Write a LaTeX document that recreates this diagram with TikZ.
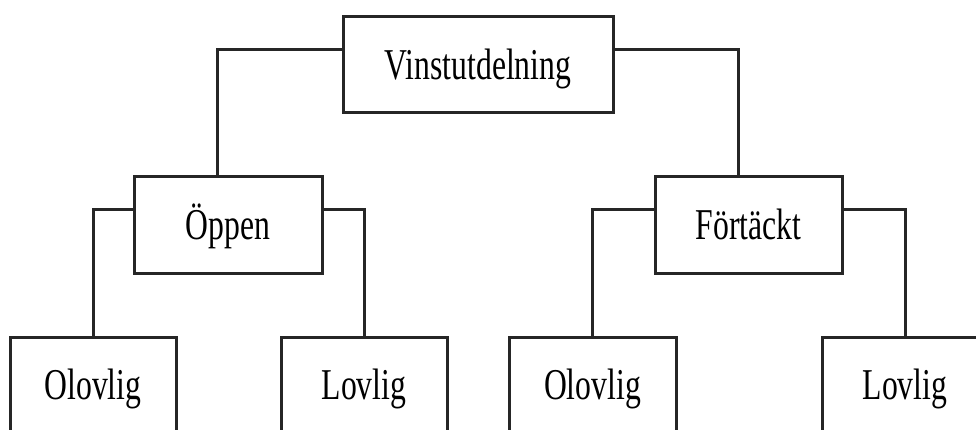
\documentclass[tikz,border=0pt]{standalone}
\usepackage{fontspec}
\newfontfamily\labfont[FakeStretch=0.72]{Liberation Serif}
\usetikzlibrary{calc}
\begin{document}
\begin{tikzpicture}[x=1pt,y=-1pt,
  box/.style={draw=black!85, line width=3pt, rectangle, minimum height=96pt,
    inner sep=0pt, text height=29pt, text depth=0pt,
    font=\labfont\fontsize{44}{50}\selectfont},
  conn/.style={draw=black!85, line width=3pt, line join=miter}]
\useasboundingbox (0,0) rectangle (976,430);
\clip (0,0) rectangle (976,430);
\fill[white] (0,0) rectangle (976,430);
\node[box, minimum width=270pt] (top) at (478,65) {Vinstutdelning};
\node[box, minimum width=188pt] (opp) at (228,225) {Öppen};
\node[box, minimum width=187pt] (fort) at (748.5,225) {Förtäckt};
\node[box, minimum width=166pt] (ol1) at (93,385) {Olovlig};
\node[box, minimum width=166pt] (lo1) at (364,385) {Lovlig};
\node[box, minimum width=167pt] (ol2) at (592.5,385) {Olovlig};
\node[box, minimum width=166pt] (lo2) at (905,385) {Lovlig};
\coordinate (tw) at ($(top.north west)!0.34!(top.south west)$);
\coordinate (te) at ($(top.north east)!0.34!(top.south east)$);
\coordinate (ow) at ($(opp.north west)!0.34!(opp.south west)$);
\coordinate (oe) at ($(opp.north east)!0.34!(opp.south east)$);
\coordinate (fw) at ($(fort.north west)!0.34!(fort.south west)$);
\coordinate (fe) at ($(fort.north east)!0.34!(fort.south east)$);
\draw[conn] (tw) -| ([xshift=-11pt]opp.north);
\draw[conn] (te) -| ([xshift=-10.5pt]fort.north);
\draw[conn] (ow) -| (ol1.north);
\draw[conn] (oe) -| (lo1.north);
\draw[conn] (fw) -| (ol2.north);
\draw[conn] (fe) -| (lo2.north);
\end{tikzpicture}
\end{document}
